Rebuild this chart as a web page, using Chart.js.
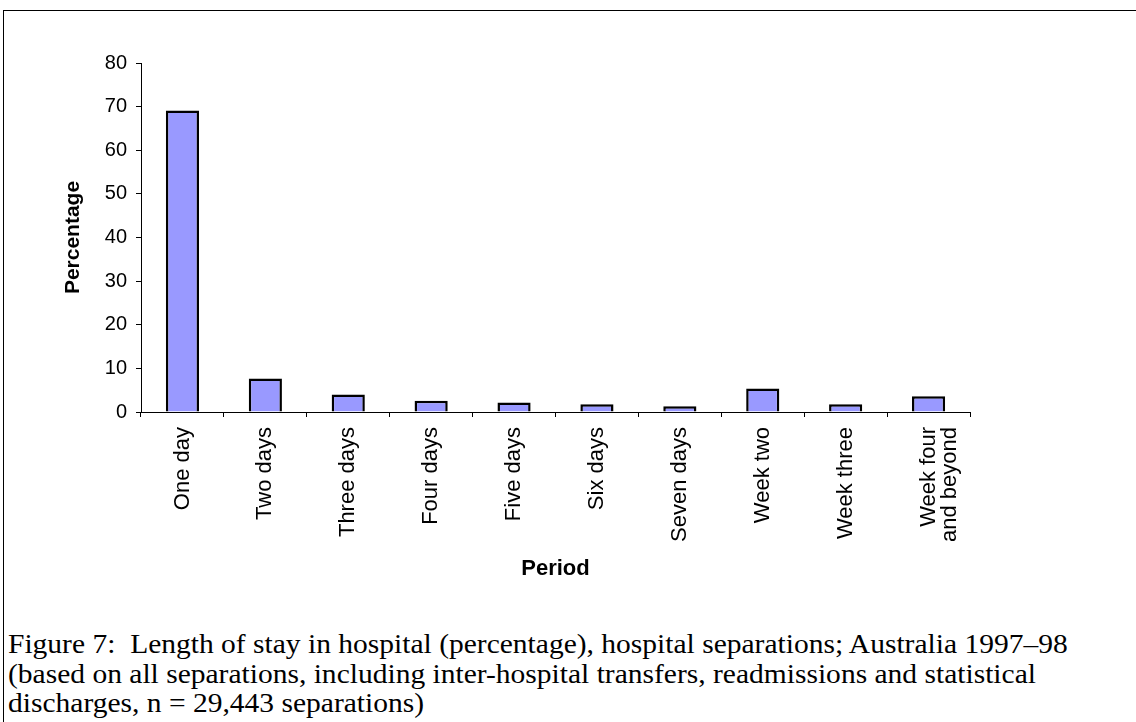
<!DOCTYPE html>
<html>
<head>
<meta charset="utf-8">
<script src="https://cdn.jsdelivr.net/npm/chart.js@4.4.1/dist/chart.umd.min.js"></script>
<style>
  html, body { margin: 0; padding: 0; background: #fff; }
  body { width: 1136px; height: 722px; position: relative; overflow: hidden; }
  #frame { position: absolute; left: 3px; top: 10px; width: 1140px; height: 720px;
           border-left: 1px solid #000; border-top: 1px solid #000; }
  #wrap { position: absolute; left: 0; top: 0; width: 1136px; height: 600px; }
  #caption { position: absolute; left: 8px; top: 630px; white-space: nowrap;
             font-family: "Liberation Serif", "Times New Roman", serif; font-size: 27px;
             line-height: 29.5px; color: #000; transform: scaleX(1.093); transform-origin: 0 0; }
</style>
</head>
<body>
<div id="frame"></div>
<div id="wrap"><canvas id="c"></canvas></div>
<div id="caption">Figure 7:&nbsp; Length of stay in hospital (percentage), hospital separations; Australia 1997–98<br>(based on all separations, including inter-hospital transfers, readmissions and statistical<br>discharges, n = 29,443 separations)</div>
<script>
const categories = ["One day", "Two days", "Three days", "Four days", "Five days", "Six days",
                    "Seven days", "Week two", "Week three", ["Week four", "and beyond"]];
const percentages = [69.1, 7.7, 4.0, 2.6, 2.2, 1.8, 1.3, 5.4, 1.8, 3.6];
const yTicks = [0, 10, 20, 30, 40, 50, 60, 70, 80];

const font = "'Liberation Sans', Arial, sans-serif";

new Chart(document.getElementById('c'), {
  type: 'bar',
  data: {
    labels: categories,
    datasets: [{
      data: percentages,
      backgroundColor: '#9999FF',
      borderColor: '#000000',
      borderWidth: 2.5,
      barPercentage: 0.4,
      categoryPercentage: 1.0
    }]
  },
  options: {
    responsive: true,
    maintainAspectRatio: false,
    animation: false,
    devicePixelRatio: 1,
    layout: { padding: { top: 63, right: 166, bottom: 0, left: 0 } },
    plugins: { legend: { display: false }, tooltip: { enabled: false } },
    scales: {
      x: {
        grid: { offset: true, drawOnChartArea: false, drawTicks: true, tickLength: 5, color: '#000' },
        border: { color: '#000', width: 1 },
        ticks: { color: '#000', font: { family: font, size: 22, lineHeight: 0.95 }, minRotation: 90, maxRotation: 90,
                 autoSkip: false, padding: 10 },
        title: { display: true, text: 'Period', color: '#000',
                 font: { family: font, size: 22, weight: 'bold' }, padding: { top: 0, bottom: 18 } },
        afterFit: (s) => { s.height = 188; }
      },
      y: {
        min: 0, max: 80,
        afterBuildTicks: (s) => { s.ticks = yTicks.map(v => ({ value: v })); },
        grid: { drawOnChartArea: false, drawTicks: true, tickLength: 5, color: '#000' },
        border: { color: '#000', width: 1 },
        ticks: { color: '#000', font: { family: font, size: 20 }, padding: 9 },
        title: { display: true, text: 'Percentage', color: '#000',
                 font: { family: font, size: 21, weight: 'bold' }, padding: { top: 61, bottom: 0 } },
        afterFit: (s) => { s.width = 141; }
      }
    }
  }
});
</script>
</body>
</html>
